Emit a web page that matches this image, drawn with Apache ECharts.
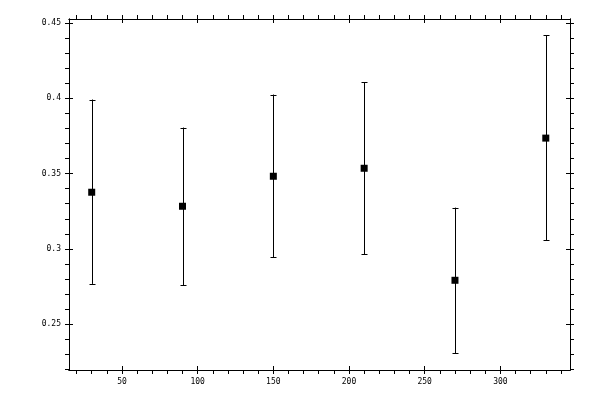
<!DOCTYPE html>
<html>
<head>
<meta charset="utf-8">
<script src="https://cdn.jsdelivr.net/npm/echarts@6/dist/echarts.min.js"></script>
<style>html,body{margin:0;padding:0;background:#fff;}#c{width:600px;height:400px;}</style>
</head>
<body>
<div id="c"></div>
<script>
var xs = [30, 90, 150, 210, 270, 330];
var means = [0.3376, 0.3283, 0.3482, 0.3535, 0.2792, 0.3735];
var lows = [0.2768, 0.2759, 0.2945, 0.2965, 0.2308, 0.3058];
var highs = [0.3991, 0.3805, 0.4024, 0.4106, 0.3274, 0.4418];

var xMajor = [50, 100, 150, 200, 250, 300];
var xMinor = [20, 30, 40, 60, 70, 80, 90, 110, 120, 130, 140, 160, 170, 180, 190, 210, 220, 230, 240, 260, 270, 280, 290, 310, 320, 330, 340];
var yMajor = [0.25, 0.3, 0.35, 0.4, 0.45];
var yMinor = [0.22, 0.23, 0.24, 0.26, 0.27, 0.28, 0.29, 0.31, 0.32, 0.33, 0.34, 0.36, 0.37, 0.38, 0.39, 0.41, 0.42, 0.43, 0.44];

var X_MIN = 15, X_MAX = 346, Y_MIN = 0.2197, Y_MAX = 0.4525;
var lineStyle = { color: '#000', width: 1 };
var labelStyle = { color: '#000', fontFamily: 'DejaVu Sans Mono', fontSize: 8, margin: 8 };

function axis(kind, pos, major, minor, inner, labels) {
  var a = {
    type: 'value', position: pos,
    min: kind === 'x' ? X_MIN : Y_MIN,
    max: kind === 'x' ? X_MAX : Y_MAX,
    splitLine: { show: false },
    axisLine: { show: true, onZero: false, lineStyle: lineStyle },
    axisTick: { show: true, inside: inner, length: 4, lineStyle: lineStyle,
      customValues: inner ? major : minor.concat(major) },
    axisLabel: labels ? Object.assign({ customValues: major }, labelStyle) : { show: false }
  };
  return a;
}

var chart = echarts.init(document.getElementById('c'));
var scatterData = xs.map(function (x, i) { return [x, means[i]]; });
var errData = xs.map(function (x, i) { return [x, lows[i], highs[i]]; });

chart.setOption({
  animation: false,
  backgroundColor: '#fff',
  grid: { left: 69, right: 30, top: 19, bottom: 30, containLabel: false },
  xAxis: [
    axis('x', 'bottom', xMajor, xMinor, false, true),
    axis('x', 'bottom', xMajor, xMinor, true, false),
    axis('x', 'top', xMajor, xMinor, false, false),
    axis('x', 'top', xMajor, xMinor, true, false)
  ],
  yAxis: [
    axis('y', 'left', yMajor, yMinor, false, true),
    axis('y', 'left', yMajor, yMinor, true, false),
    axis('y', 'right', yMajor, yMinor, false, false),
    axis('y', 'right', yMajor, yMinor, true, false)
  ],
  series: [
    {
      type: 'custom',
      xAxisIndex: 0, yAxisIndex: 0,
      data: errData,
      renderItem: function (params, api) {
        var x = api.value(0);
        var lo = api.coord([x, api.value(1)]);
        var hi = api.coord([x, api.value(2)]);
        var cx = Math.round(lo[0]) + 0.5;
        var style = { stroke: '#000', lineWidth: 1 };
        return {
          type: 'group',
          children: [
            { type: 'line', shape: { x1: cx, y1: hi[1], x2: cx, y2: lo[1] }, style: style },
            { type: 'line', shape: { x1: cx - 3, y1: Math.round(hi[1]) + 0.5, x2: cx + 3, y2: Math.round(hi[1]) + 0.5 }, style: style },
            { type: 'line', shape: { x1: cx - 3, y1: Math.round(lo[1]) + 0.5, x2: cx + 3, y2: Math.round(lo[1]) + 0.5 }, style: style }
          ]
        };
      },
      z: 2
    },
    {
      type: 'scatter',
      xAxisIndex: 0, yAxisIndex: 0,
      symbol: 'rect',
      symbolSize: 7,
      itemStyle: { color: '#000', opacity: 1 },
      data: scatterData,
      z: 3
    }
  ]
});
</script>
</body>
</html>
